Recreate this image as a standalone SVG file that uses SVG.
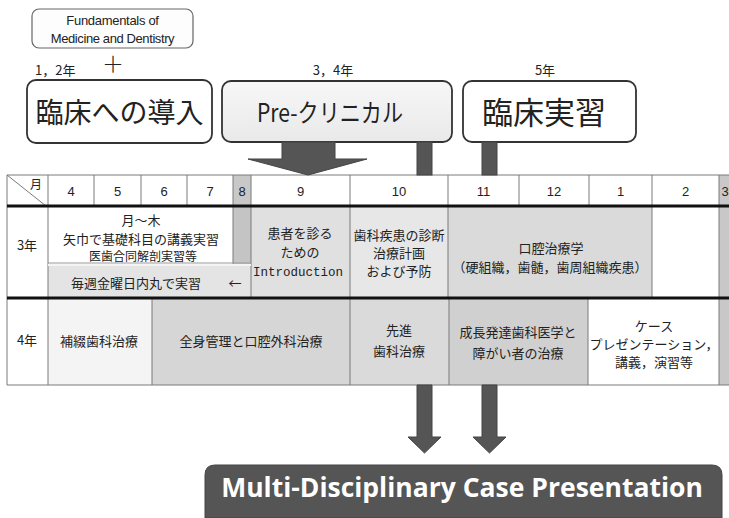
<svg xmlns="http://www.w3.org/2000/svg" width="729" height="518" viewBox="0 0 729 518">
<defs>
<linearGradient id="preg" x1="0" y1="0" x2="0" y2="1">
<stop offset="0" stop-color="#f7f7f7"/>
<stop offset="1" stop-color="#e9e9e9"/>
</linearGradient>
</defs>
<style>
.jp{font-family:"Noto Sans CJK JP","Noto Sans",sans-serif;fill:#222}
.lat{font-family:"Liberation Sans",Arial,sans-serif;fill:#222}
.box{fill:#fff;stroke:#333;stroke-width:1.8}
.grid{stroke:#7a7a7a;stroke-width:1;fill:none}
.thick{stroke:#111;stroke-width:3}
.arrow{fill:#555;stroke:#444;stroke-width:1}
.cell{font-family:"Noto Sans CJK JP",sans-serif;font-size:13px;fill:#222;text-anchor:middle}
.num{font-family:"Liberation Sans",Arial,sans-serif;font-size:13px;fill:#222;text-anchor:middle}
.mid{text-anchor:middle}
</style>
<rect width="729" height="518" fill="#fff"/>

<g id="fundamentals">
<rect x="32" y="9" width="161" height="39" rx="7" fill="#fdfdfd" stroke="#666" stroke-width="1.2"/>
<text class="lat mid" x="112.5" y="25" font-size="13" fill="#333" letter-spacing="-0.3">Fundamentals of<tspan x="112.5" y="43" letter-spacing="-0.4">Medicine and Dentistry</tspan></text>
</g>

<g id="labels">
<text class="jp" x="35" y="75" font-size="13">1，2年</text>
<text class="jp mid" x="113" y="72" font-size="22" font-weight="300">＋</text>
<text class="jp mid" x="333" y="75" font-size="13">3，4年</text>
<text class="jp mid" x="545" y="75" font-size="13">5年</text>
</g>

<g id="intro">
<rect class="box" x="27" y="80" width="185" height="63" rx="9"/>
<text class="jp mid" x="119.5" y="123" font-size="28">臨床への導入</text>
</g>

<g id="preclinical">
<rect x="222" y="81" width="230" height="61" rx="9" fill="url(#preg)" stroke="#333" stroke-width="1.8"/>
<text class="jp mid" x="330" y="122" font-size="25" textLength="146" lengthAdjust="spacingAndGlyphs">Pre-クリニカル</text>
</g>

<g id="clinical">
<rect class="box" x="463" y="81" width="173" height="61" rx="9"/>
<text class="jp mid" x="544" y="124" font-size="31">臨床実習</text>
</g>

<g id="table">
<rect x="7" y="175" width="722" height="210" fill="#fff"/>
<rect x="233" y="175" width="18" height="31" fill="#c8c8c8"/>
<rect x="719" y="175" width="10" height="210" fill="#c8c8c8"/>
<rect x="233" y="206" width="18" height="58" fill="#c4c4c4"/>
<rect x="48" y="264" width="203" height="34" fill="#e4e4e4"/>
<rect x="251" y="206" width="99" height="92" fill="#e0e0e0"/>
<rect x="350" y="206" width="98" height="92" fill="#e7e7e7"/>
<rect x="448" y="206" width="204" height="92" fill="#dadada"/>
<rect x="48" y="298" width="104" height="87" fill="#f4f4f4"/>
<rect x="152" y="298" width="198" height="87" fill="#d6d6d6"/>
<rect x="350" y="298" width="99" height="87" fill="#dadada"/>
<rect x="449" y="298" width="139" height="87" fill="#d0d0d0"/>

<path class="grid" d="M7,175H729M7,385H729M7,175V385M48,175V385
M94,175V206M141,175V206M187,175V206M233,175V264M251,175V298M350,175V385M448,175V298M519,175V206M589,175V206M652,175V298M719,175V385
M152,298V385M449,298V385M588,298V385M7,175L46,206"/>
<path d="M48,265H251" stroke="#f4f4f4" stroke-width="2"/>
<path d="M48,263H251" stroke="#999" stroke-width="1"/>
<path class="thick" d="M7,206H729M7,298H729"/>

<text class="jp" x="30" y="189" font-size="12">月</text>
<text class="num" x="71" y="196">4</text>
<text class="num" x="117.5" y="196">5</text>
<text class="num" x="164" y="196">6</text>
<text class="num" x="210" y="196">7</text>
<text class="num" x="242" y="196">8</text>
<text class="num" x="300.5" y="196">9</text>
<text class="num" x="399" y="196">10</text>
<text class="num" x="483.5" y="196">11</text>
<text class="num" x="554" y="196">12</text>
<text class="num" x="620.5" y="196">1</text>
<text class="num" x="685.5" y="196">2</text>
<text class="num" x="725" y="196">3</text>

<text class="cell" x="27" y="250">3年</text>
<text class="cell" x="141" y="225" font-size="12.5">月～木<tspan x="141" y="243.5">矢巾で基礎科目の講義実習</tspan><tspan x="143" y="261" font-size="12">医歯合同解剖実習等</tspan></text>
<text class="cell" x="136" y="288" font-size="13.5">毎週金曜日内丸で実習</text>
<text class="cell" x="235" y="288">←</text>
<text class="cell" x="300" y="238" font-size="13">患者を診る<tspan x="300" y="257">ための</tspan><tspan x="298" y="276" font-family="Liberation Mono,monospace" font-size="12.5">Introduction</tspan></text>
<text class="cell" x="399" y="240" font-size="12">歯科疾患の診断<tspan x="399" y="258">治療計画</tspan><tspan x="399" y="276">および予防</tspan></text>
<text class="cell" x="551" y="253" font-size="14">口腔治療学<tspan x="550" y="272" font-size="13">（硬組織，歯髄，歯周組織疾患）</tspan></text>

<text class="cell" x="27" y="345">4年</text>
<text class="cell" x="99" y="346" font-size="14.5">補綴歯科治療</text>
<text class="cell" x="251" y="346" font-size="14.5">全身管理と口腔外科治療</text>
<text class="cell" x="399" y="335" font-size="14.5">先進<tspan x="399" y="356">歯科治療</tspan></text>
<text class="cell" x="518" y="337" font-size="14.2">成長発達歯科医学と<tspan x="518" y="358">障がい者の治療</tspan></text>
<text class="cell" x="654" y="331" font-size="12">ケース<tspan x="654" y="349">プレゼンテーション，</tspan><tspan x="654" y="367">講義，演習等</tspan></text>
</g>

<g id="connectors">
<polygon class="arrow" points="282,142 335,142 335,159 367,159 308,175 248,159 282,159"/>
<rect class="arrow" x="417" y="142" width="15" height="33"/>
<rect class="arrow" x="482" y="142" width="15" height="33"/>
<polygon class="arrow" points="417,385 432,385 432,437 441,437 424.5,453 408,437 417,437"/>
<polygon class="arrow" points="482,385 497,385 497,437 506,437 489.5,453 473,437 482,437"/>
</g>

<g id="banner">
<path d="M205,518V475Q205,465 215,465H712Q722,465 722,475V518Z" fill="#555" stroke="#444" stroke-width="1"/>
<text x="462" y="497" font-family="Open Sans,Liberation Sans,sans-serif" font-weight="bold" font-size="26.5" fill="#fff" text-anchor="middle">Multi-Disciplinary Case Presentation</text>
</g>
</svg>
